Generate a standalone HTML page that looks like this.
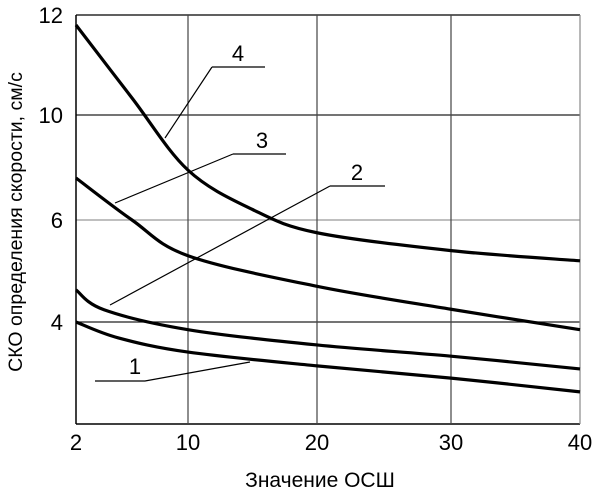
<!DOCTYPE html>
<html><head><meta charset="utf-8"><style>
html,body{margin:0;padding:0;background:#fff;}
svg{display:block;font-family:"Liberation Sans",sans-serif;}
</style></head><body>
<svg id="chart" width="600" height="492" viewBox="0 0 600 492">
<g id="grid"></g>
<g id="curves"></g>
<g id="ann" stroke="#000" stroke-width="1.2" fill="none">
  <path d="M212,67 H265 M212,67 L165,138"/>
  <path d="M233,154 H286 M233,154 L115,203"/>
  <path d="M330,186 H385 M330,186 L110,305"/>
  <path d="M95,381 H145 L250,362"/>
</g>
<g font-size="22" fill="#000">
  <text x="238" y="61" text-anchor="middle">4</text>
  <text x="262" y="148" text-anchor="middle">3</text>
  <text x="357" y="180" text-anchor="middle">2</text>
  <text x="135" y="374" text-anchor="middle">1</text>
</g>
<g id="ticks" font-size="22" fill="#000"></g>
<text x="320" y="487" font-size="21" text-anchor="middle">Значение ОСШ</text>
<text transform="translate(22,222) rotate(-90)" font-size="19.5" text-anchor="middle">СКО определения скорости, см/с</text>
</svg>
<script>
const xTicks=[2,10,20,30,40];
const xTickPos=[76,188,317,451,580];
const yTicks=[12,10,6,4,2];
const yTickPos=[15,115,220,322,424];
const yTickLabels=["12","10","6","4",""];
const xs1=[2,5,10,20,30,40], s1=[4.0,3.69,3.41,3.14,2.9,2.63];
const xs2=[2,4,10,20,30,40], s2=[4.63,4.24,3.85,3.55,3.33,3.08];
const xs3=[2,6,10,20,30,40], s3=[7.6,6.0,5.3,4.7,4.25,3.85];
const xs4=[2,6,10,15,20,30,40], s4=[11.8,10.34,7.9,6.4,5.75,5.4,5.2];
function interp(v,d,p){
  for(let i=0;i<d.length-1;i++){
    const a=d[i],b=d[i+1];
    if((v>=Math.min(a,b)&&v<=Math.max(a,b))||i===d.length-2){
      return p[i]+(v-a)/(b-a)*(p[i+1]-p[i]);
    }
  }
}
const X=v=>interp(v,xTicks,xTickPos);
const Y=v=>interp(v,yTicks,yTickPos);
const NS="http://www.w3.org/2000/svg";
const grid=document.getElementById('grid');
function line(x1,y1,x2,y2,c,w,name){
  const l=document.createElementNS(NS,'line');
  l.setAttribute('x1',x1);l.setAttribute('y1',y1);l.setAttribute('x2',x2);l.setAttribute('y2',y2);
  l.setAttribute('stroke',c);l.setAttribute('stroke-width',w);
  
  
  grid.appendChild(l);
}
const x0=X(xTicks[0]),x1=X(xTicks[xTicks.length-1]);
const yTop=Y(yTicks[0]),yBot=Y(yTicks[yTicks.length-1]);
yTicks.forEach((t,i)=>{
  const c=(i===0||i===yTicks.length-1)?'#000':(t===6?'#999':'#222');
  line(x0,Y(t),x1,Y(t),c,i===yTicks.length-1?1.5:1.2,'y-gridline');
});
xTicks.forEach((t,i)=>{
  const c=i===0?'#000':(i===xTicks.length-1?'#888':'#444');
  line(X(t),yTop,X(t),yBot,c,i===0?1.5:1.2,'x-gridline');
});
const ticks=document.getElementById('ticks');
xTicks.forEach(t=>{
  const e=document.createElementNS(NS,'text');
  e.setAttribute('x',X(t));e.setAttribute('y',450);e.setAttribute('text-anchor','middle');
  e.textContent=t;
  
  
  ticks.appendChild(e);
});
yTicks.forEach((t,i)=>{
  if(!yTickLabels[i])return;
  const e=document.createElementNS(NS,'text');
  e.setAttribute('x',63);e.setAttribute('y',Y(t)+8);e.setAttribute('text-anchor','end');
  e.textContent=yTickLabels[i];
  
  
  ticks.appendChild(e);
});
function smooth(pts){
  let d='M'+pts[0][0]+','+pts[0][1];
  for(let i=0;i<pts.length-1;i++){
    const p0=pts[i-1]||pts[i],p1=pts[i],p2=pts[i+1],p3=pts[i+2]||p2;
    const c1=[p1[0]+(p2[0]-p0[0])/6,p1[1]+(p2[1]-p0[1])/6];
    const c2=[p2[0]-(p3[0]-p1[0])/6,p2[1]-(p3[1]-p1[1])/6];
    d+=' C'+c1+' '+c2+' '+p2;
  }
  return d;
}
const curves=document.getElementById('curves');
[[xs1,s1,'curve-1'],[xs2,s2,'curve-2'],[xs3,s3,'curve-3'],[xs4,s4,'curve-4']].forEach(([xs,ys,n])=>{
  const p=document.createElementNS(NS,'path');
  p.setAttribute('d',smooth(xs.map((x,i)=>[X(x),Y(ys[i])])));
  p.setAttribute('fill','none');p.setAttribute('stroke','#000');p.setAttribute('stroke-width','3.2');
  
  
  curves.appendChild(p);
});
</script>
</body></html>
